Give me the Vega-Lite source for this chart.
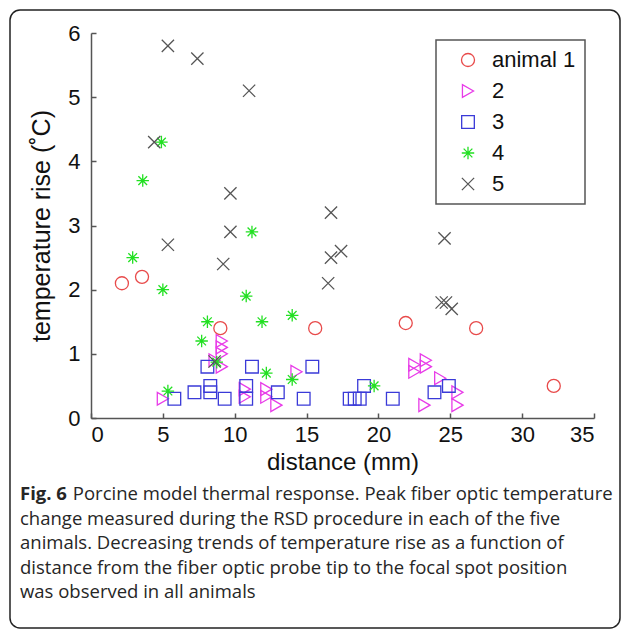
{
  "$schema": "https://vega.github.io/schema/vega-lite/v6.json",
  "width": 610,
  "height": 618,
  "autosize": {"type": "none"},
  "padding": {"left": 10, "top": 10, "right": 7, "bottom": 4},
  "background": "white",
  "config": {
    "view": {"stroke": "#222222", "strokeWidth": 1.5, "cornerRadius": 10, "fill": "white"},
    "axis": {
      "grid": false,
      "domainColor": "#555555",
      "domainWidth": 1.5,
      "tickColor": "#555555",
      "tickWidth": 1.5,
      "labelFont": "Liberation Sans",
      "labelFontSize": 22,
      "labelColor": "#111111",
      "titleFont": "Liberation Sans",
      "titleFontSize": 24,
      "titleFontWeight": "normal",
      "titleColor": "#111111"
    },
    "legend": {
      "orient": "none",
      "legendX": 426,
      "legendY": 30,
      "strokeColor": "#555555",
      "strokeWidth": 1.5,
      "fillColor": "white",
      "padding": 9,
      "symbolOffset": 12,
      "labelOffset": 13,
      "labelFont": "Liberation Sans",
      "labelFontSize": 22,
      "labelColor": "#111111",
      "rowPadding": 9,
      "symbolSize": 130,
      "symbolStrokeWidth": 1.3
    }
  },
  "title": {
    "text": "Fig. 6",
    "subtitle": [
      "\u200b\u00a0\u00a0\u00a0\u00a0\u00a0\u00a0\u00a0\u00a0\u00a0\u00a0\u00a0Porcine model thermal response. Peak fiber optic temperature",
      "change measured during the RSD procedure in each of the five",
      "animals. Decreasing trends of temperature rise as a function of",
      "distance from the fiber optic probe tip to the focal spot position",
      "was observed in all animals"
    ],
    "orient": "bottom",
    "anchor": "start",
    "frame": "group",
    "offset": -143,
    "dx": 10,
    "font": "Open Sans",
    "fontSize": 18.5,
    "fontWeight": "bold",
    "color": "#262626",
    "subtitleFont": "Open Sans",
    "subtitleFontSize": 18.5,
    "subtitleFontWeight": "normal",
    "subtitleColor": "#262626",
    "subtitleLineHeight": 24.5,
    "subtitlePadding": -18.5
  },
  "data": {
    "values": [
      {"animal": "animal 1", "distance": 2.15, "rise": 2.1},
      {"animal": "animal 1", "distance": 3.55, "rise": 2.2},
      {"animal": "animal 1", "distance": 9.0, "rise": 1.4},
      {"animal": "animal 1", "distance": 15.6, "rise": 1.4},
      {"animal": "animal 1", "distance": 21.9, "rise": 1.48},
      {"animal": "animal 1", "distance": 26.8, "rise": 1.4},
      {"animal": "animal 1", "distance": 32.2, "rise": 0.5},
      {"animal": "2", "distance": 5.0, "rise": 0.3},
      {"animal": "2", "distance": 8.6, "rise": 0.9},
      {"animal": "2", "distance": 9.1, "rise": 1.2},
      {"animal": "2", "distance": 9.1, "rise": 1.1},
      {"animal": "2", "distance": 9.1, "rise": 1.0},
      {"animal": "2", "distance": 9.1, "rise": 0.8},
      {"animal": "2", "distance": 10.7, "rise": 0.45},
      {"animal": "2", "distance": 10.7, "rise": 0.33},
      {"animal": "2", "distance": 12.2, "rise": 0.45},
      {"animal": "2", "distance": 12.2, "rise": 0.33},
      {"animal": "2", "distance": 12.9, "rise": 0.2},
      {"animal": "2", "distance": 14.3, "rise": 0.72},
      {"animal": "2", "distance": 22.5, "rise": 0.83},
      {"animal": "2", "distance": 22.5, "rise": 0.72},
      {"animal": "2", "distance": 23.3, "rise": 0.9},
      {"animal": "2", "distance": 23.3, "rise": 0.8},
      {"animal": "2", "distance": 24.3, "rise": 0.62},
      {"animal": "2", "distance": 23.2, "rise": 0.2},
      {"animal": "2", "distance": 25.5, "rise": 0.4},
      {"animal": "2", "distance": 25.5, "rise": 0.2},
      {"animal": "3", "distance": 5.8, "rise": 0.3},
      {"animal": "3", "distance": 7.2, "rise": 0.4},
      {"animal": "3", "distance": 8.3, "rise": 0.5},
      {"animal": "3", "distance": 8.3, "rise": 0.4},
      {"animal": "3", "distance": 8.1, "rise": 0.8},
      {"animal": "3", "distance": 9.3, "rise": 0.3},
      {"animal": "3", "distance": 10.8, "rise": 0.5},
      {"animal": "3", "distance": 10.8, "rise": 0.3},
      {"animal": "3", "distance": 11.2, "rise": 0.8},
      {"animal": "3", "distance": 13.0, "rise": 0.4},
      {"animal": "3", "distance": 14.8, "rise": 0.3},
      {"animal": "3", "distance": 15.4, "rise": 0.8},
      {"animal": "3", "distance": 18.0, "rise": 0.3},
      {"animal": "3", "distance": 18.35, "rise": 0.3},
      {"animal": "3", "distance": 18.7, "rise": 0.3},
      {"animal": "3", "distance": 19.0, "rise": 0.5},
      {"animal": "3", "distance": 21.0, "rise": 0.3},
      {"animal": "3", "distance": 23.9, "rise": 0.4},
      {"animal": "3", "distance": 24.9, "rise": 0.5},
      {"animal": "4", "distance": 4.9, "rise": 4.3},
      {"animal": "4", "distance": 3.6, "rise": 3.7},
      {"animal": "4", "distance": 2.9, "rise": 2.5},
      {"animal": "4", "distance": 5.0, "rise": 2.0},
      {"animal": "4", "distance": 11.2, "rise": 2.9},
      {"animal": "4", "distance": 10.8, "rise": 1.9},
      {"animal": "4", "distance": 8.1, "rise": 1.5},
      {"animal": "4", "distance": 11.9, "rise": 1.5},
      {"animal": "4", "distance": 14.0, "rise": 1.6},
      {"animal": "4", "distance": 7.7, "rise": 1.2},
      {"animal": "4", "distance": 8.75, "rise": 0.87},
      {"animal": "4", "distance": 12.2, "rise": 0.7},
      {"animal": "4", "distance": 14.0, "rise": 0.6},
      {"animal": "4", "distance": 5.35, "rise": 0.42},
      {"animal": "4", "distance": 19.7, "rise": 0.5},
      {"animal": "5", "distance": 5.35, "rise": 5.8},
      {"animal": "5", "distance": 7.4, "rise": 5.6},
      {"animal": "5", "distance": 11.0, "rise": 5.1},
      {"animal": "5", "distance": 4.4, "rise": 4.3},
      {"animal": "5", "distance": 9.7, "rise": 3.5},
      {"animal": "5", "distance": 16.7, "rise": 3.2},
      {"animal": "5", "distance": 5.35, "rise": 2.7},
      {"animal": "5", "distance": 9.7, "rise": 2.9},
      {"animal": "5", "distance": 9.2, "rise": 2.4},
      {"animal": "5", "distance": 16.7, "rise": 2.5},
      {"animal": "5", "distance": 17.4, "rise": 2.6},
      {"animal": "5", "distance": 16.5, "rise": 2.1},
      {"animal": "5", "distance": 24.6, "rise": 2.8},
      {"animal": "5", "distance": 24.4, "rise": 1.8},
      {"animal": "5", "distance": 24.7, "rise": 1.8},
      {"animal": "5", "distance": 25.1, "rise": 1.7},
      {"animal": "5", "distance": 8.6, "rise": 0.88}
    ]
  },
  "mark": {"type": "point", "filled": false, "strokeWidth": 1.3, "opacity": 1},
  "encoding": {
    "x": {
      "field": "distance",
      "type": "quantitative",
      "scale": {"domain": [0, 35], "range": [81, 584], "nice": false, "zero": false},
      "axis": {
        "orient": "bottom",
        "offset": -210,
        "values": [0, 5, 10, 15, 20, 25, 30, 35],
        "tickSize": -5,
        "labelPadding": 11,
        "title": "distance (mm)",
        "titlePadding": 5
      }
    },
    "y": {
      "field": "rise",
      "type": "quantitative",
      "scale": {"domain": [0, 6], "range": [408, 23], "nice": false, "zero": false},
      "axis": {
        "orient": "left",
        "offset": -81,
        "values": [0, 1, 2, 3, 4, 5, 6],
        "tickSize": -5,
        "labelPadding": 16,
        "title": "temperature rise (˚C)",
        "titleFontSize": 25,
        "titlePadding": 13
      }
    },
    "color": {
      "field": "animal",
      "type": "nominal",
      "scale": {
        "domain": ["animal 1", "2", "3", "4", "5"],
        "range": ["#e84a4a", "#e83ce8", "#3a3ad8", "#22e022", "#555555"]
      },
      "legend": {"title": null}
    },
    "shape": {
      "field": "animal",
      "type": "nominal",
      "scale": {
        "domain": ["animal 1", "2", "3", "4", "5"],
        "range": [
          "circle",
          "triangle-right",
          "square",
          "M0,-1L0,1M-1,0L1,0M-0.7,-0.7L0.7,0.7M-0.7,0.7L0.7,-0.7",
          "M-1,-1L1,1M-1,1L1,-1"
        ]
      },
      "legend": {"title": null}
    },
    "size": {
      "field": "animal",
      "type": "nominal",
      "scale": {
        "domain": ["animal 1", "2", "3", "4", "5"],
        "range": [170, 150, 110, 150, 100]
      },
      "legend": null
    }
  }
}
